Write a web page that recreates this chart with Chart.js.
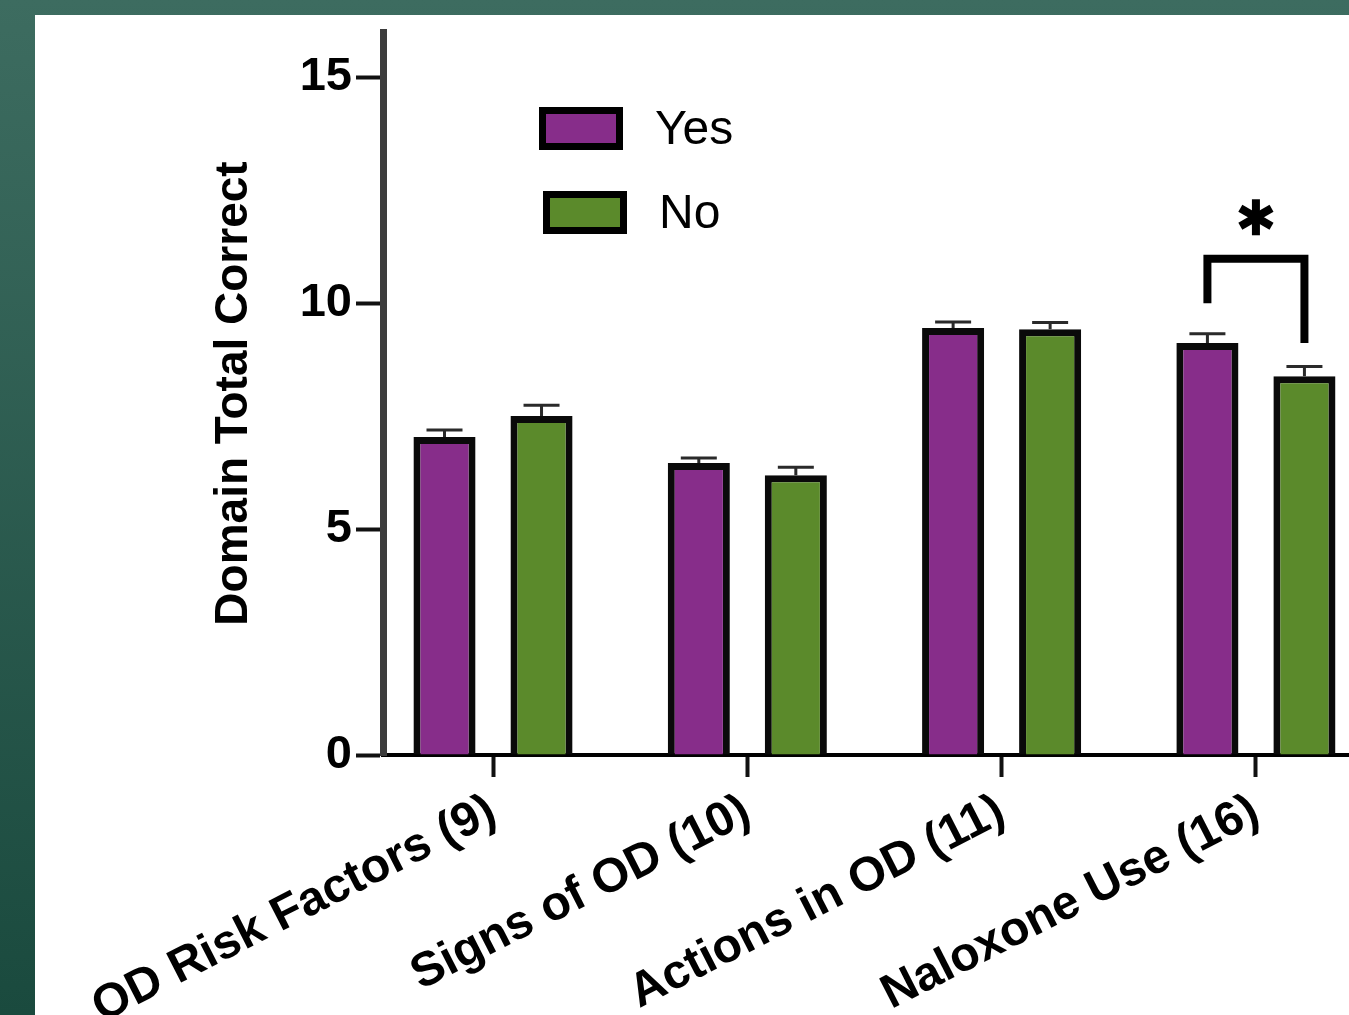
<!DOCTYPE html>
<html>
<head>
<meta charset="utf-8">
<script src="https://cdn.jsdelivr.net/npm/chart.js@4.4.1/dist/chart.umd.min.js"></script>
<style>
  html, body { margin: 0; padding: 0; }
  body {
    width: 1349px; height: 1015px; overflow: hidden; position: relative;
    background: linear-gradient(to bottom, #3d6c60, #1a4a3e);
  }
  #panel { position: absolute; left: 35px; top: 15px; width: 1314px; height: 1000px; background: #fff; }
  #chart { display: block; }
</style>
</head>
<body>
<div id="panel"><canvas id="chart" width="1314" height="1000"></canvas></div>
<script>
// data
const categories = ['OD Risk Factors (9)', 'Signs of OD (10)', 'Actions in OD (11)', 'Naloxone Use (16)'];
const yesValues = [7.04, 6.46, 9.45, 9.12];
const yesErrors = [0.15, 0.11, 0.13, 0.20];
const noValues = [7.50, 6.19, 9.42, 8.38];
const noErrors = [0.24, 0.18, 0.15, 0.22];
const yTicks = [0, 5, 10, 15];
// significance bracket on Naloxone Use: top of bracket, leg ends, star
const sigGroup = 3;
const sigLevels = { top: 10.98, left: 10.0, right: 9.12, star: 11.9 };

const FONT = "'Liberation Sans', Arial, sans-serif";
const purple = '#872d8a';
const green = '#5b8a2b';

const toPoints = vals => vals.map((v, i) => ({ x: i, y: v }));

const errorBars = {
  id: 'errorBars',
  afterDatasetsDraw(chart) {
    const ctx = chart.ctx;
    const y = chart.scales.y;
    ctx.save();
    ctx.strokeStyle = '#2a2a2a';
    ctx.lineWidth = 3;
    chart.data.datasets.forEach((ds, di) => {
      chart.getDatasetMeta(di).data.forEach((bar, i) => {
        const top = y.getPixelForValue(ds.data[i].y + ds.errors[i]);
        ctx.beginPath();
        ctx.moveTo(bar.x, bar.y);
        ctx.lineTo(bar.x, top);
        ctx.moveTo(bar.x - 18, top);
        ctx.lineTo(bar.x + 18, top);
        ctx.stroke();
      });
    });
    ctx.restore();
  }
};

const sigBracket = {
  id: 'sigBracket',
  afterDatasetsDraw(chart) {
    const ctx = chart.ctx;
    const y = chart.scales.y;
    const xl = chart.getDatasetMeta(0).data[sigGroup].x;
    const xr = chart.getDatasetMeta(1).data[sigGroup].x;
    ctx.save();
    ctx.strokeStyle = '#000';
    ctx.lineWidth = 8;
    ctx.lineJoin = 'miter';
    ctx.beginPath();
    ctx.moveTo(xl, y.getPixelForValue(sigLevels.left));
    ctx.lineTo(xl, y.getPixelForValue(sigLevels.top));
    ctx.lineTo(xr, y.getPixelForValue(sigLevels.top));
    ctx.lineTo(xr, y.getPixelForValue(sigLevels.right));
    ctx.stroke();
    // star
    const cx = chart.scales.x.getPixelForValue(sigGroup);
    const cy = y.getPixelForValue(sigLevels.star);
    ctx.lineWidth = 8;
    ctx.lineCap = 'butt';
    [90, 30, 150].forEach(a => {
      const r = a * Math.PI / 180;
      ctx.beginPath();
      ctx.moveTo(cx - Math.cos(r) * 18, cy - Math.sin(r) * 18);
      ctx.lineTo(cx + Math.cos(r) * 18, cy + Math.sin(r) * 18);
      ctx.stroke();
    });
    ctx.restore();
  }
};

const boxLegend = {
  id: 'boxLegend',
  afterDraw(chart, args, opts) {
    const ctx = chart.ctx;
    ctx.save();
    chart.data.datasets.forEach((ds, i) => {
      const bx = opts.x + i * opts.dx;
      const by = opts.y + i * opts.gap;
      ctx.fillStyle = '#000';
      ctx.fillRect(bx, by, opts.w, opts.h);
      ctx.fillStyle = ds.backgroundColor;
      ctx.fillRect(bx + 7, by + 7, opts.w - 14, opts.h - 14);
      ctx.fillStyle = '#000';
      ctx.font = '48px ' + FONT;
      ctx.textBaseline = 'middle';
      ctx.textAlign = 'left';
      ctx.fillText(ds.label, opts.textX + i * opts.dx, by + opts.h / 2 + 2);
    });
    ctx.restore();
  }
};

new Chart(document.getElementById('chart'), {
  type: 'bar',
  data: {
    datasets: [
      { label: 'Yes', data: toPoints(yesValues), errors: yesErrors, backgroundColor: purple, borderColor: '#0a0a0a', borderWidth: 7 },
      { label: 'No', data: toPoints(noValues), errors: noErrors, backgroundColor: green, borderColor: '#0a0a0a', borderWidth: 7 }
    ]
  },
  options: {
    responsive: false,
    animation: false,
    categoryPercentage: 0.763,
    barPercentage: 0.64,
    layout: { padding: { top: 17, right: 0, bottom: 0, left: 0 } },
    plugins: {
      legend: { display: false },
      tooltip: { enabled: false },
      boxLegend: { x: 504, y: 92, w: 84, h: 43, gap: 84, dx: 4, textX: 620 }
    },
    scales: {
      x: {
        type: 'linear',
        bounds: 'data',
        offset: false,
        min: -0.4326,
        max: 3.366,
        afterBuildTicks: s => { s.ticks = categories.map((_, i) => ({ value: i })); },
        afterFit: s => { s.height = 260; s.paddingLeft = 0; s.paddingRight = 0; },
        grid: { display: true, offset: false, drawOnChartArea: false, tickLength: 22, tickWidth: 4, tickColor: '#111', color: '#111' },
        border: { display: true, color: '#000', width: 4 },
        ticks: {
          autoSkip: false,
          minRotation: 27,
          maxRotation: 27,
          padding: 6,
          color: '#000',
          font: { family: FONT, size: 48, weight: 'bold' }
          ,
          callback: v => categories[v] ?? ''
        }
      },
      y: {
        min: 0,
        max: 16,
        afterBuildTicks: s => { s.ticks = yTicks.map(v => ({ value: v })); },
        afterFit: s => { s.width = 348; s.paddingTop = 0; s.paddingBottom = 0; },
        grid: { display: true, drawOnChartArea: false, tickLength: 27, tickWidth: 4, tickColor: '#111', color: '#111' },
        border: { display: true, color: '#3c3c3c', width: 7 },
        ticks: {
          padding: 4,
          color: '#000',
          font: { family: FONT, size: 47, weight: 'bold' }
        },
        title: {
          display: true,
          text: 'Domain Total Correct',
          color: '#000',
          padding: { top: 172, bottom: 0 },
          font: { family: FONT, size: 46, weight: 'bold' }
        }
      }
    }
  },
  plugins: [errorBars, sigBracket, boxLegend]
});
</script>
</body>
</html>
